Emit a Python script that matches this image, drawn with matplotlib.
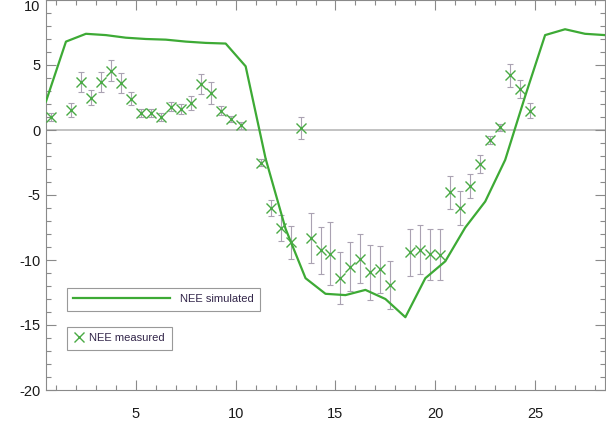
import matplotlib
matplotlib.use('Agg')
import matplotlib.pyplot as plt
from matplotlib.ticker import MultipleLocator

plt.rcParams['font.family'] = ['Liberation Sans', 'DejaVu Sans']
plt.rcParams['axes.unicode_minus'] = False

# simulated NEE, hourly
t_sim = [0.5, 1.5, 2.5, 3.5, 4.5, 5.5, 6.5, 7.5, 8.5, 9.5, 10.5, 11.5, 12.5, 13.5, 14.5,
         15.5, 16.5, 17.5, 18.5, 19.5, 20.5, 21.5, 22.5, 23.5, 24.5, 25.5, 26.5, 27.5, 28.5]
nee_sim = [2.2, 6.8, 7.4, 7.3, 7.1, 7.0, 6.95, 6.8, 6.7, 6.65, 4.9, -2.2, -7.6, -11.4, -12.6,
           -12.7, -12.3, -13.0, -14.4, -11.4, -10.1, -7.5, -5.5, -2.3, 2.6, 7.3, 7.75, 7.4, 7.3]

# measured NEE, half-hourly, with error
t_meas = [0.75, 1.75, 2.25, 2.75, 3.25, 3.75, 4.25, 4.75, 5.25, 5.75, 6.25, 6.75, 7.25, 7.75,
          8.25, 8.75, 9.25, 9.75, 10.25, 11.25, 11.75, 12.25, 12.75, 13.25, 13.75, 14.25, 14.75,
          15.25, 15.75, 16.25, 16.75, 17.25, 17.75, 18.75, 19.25, 19.75, 20.25, 20.75, 21.25,
          21.75, 22.25, 22.75, 23.25, 23.75, 24.25, 24.75]
nee_meas = [1.0, 1.55, 3.7, 2.5, 3.7, 4.55, 3.6, 2.4, 1.3, 1.3, 1.0, 1.8, 1.6, 2.1,
            3.55, 2.85, 1.5, 0.85, 0.35, -2.5, -6.0, -7.55, -8.65, 0.15, -8.3, -9.25, -9.5,
            -11.35, -10.5, -9.9, -10.95, -10.7, -11.9, -9.4, -9.2, -9.55, -9.6, -4.8, -6.0,
            -4.3, -2.6, -0.75, 0.2, 4.2, 3.15, 1.5]
nee_err = [0.3, 0.55, 0.75, 0.6, 0.75, 0.8, 0.75, 0.5, 0.3, 0.3, 0.3, 0.35, 0.4, 0.55,
           0.75, 0.85, 0.35, 0.25, 0.25, 0.25, 0.6, 1.0, 1.3, 0.85, 1.95, 1.8, 2.45,
           2.0, 1.9, 1.9, 2.1, 1.8, 1.85, 1.8, 1.9, 1.95, 1.95, 1.3, 1.3,
           0.95, 0.7, 0.3, 0.3, 0.9, 0.7, 0.55]

green = '#3daa35'
axis_gray = '#8a8a8a'
text_col = '#33264a'

fig = plt.figure(figsize=(6.06, 4.41), dpi=100)
ax = fig.add_axes([46/606, 51/441, 559/606, 390/441])

ax.axhline(0, color='#bdbdbd', lw=1.3, zorder=1)

sim_line, = ax.plot(t_sim, nee_sim, color=green, lw=1.6, zorder=3, label='NEE simulated')
ax.errorbar(t_meas, nee_meas, yerr=nee_err, fmt='none', ecolor='#aaa2b2', elinewidth=0.8,
            capsize=2.3, capthick=0.8, zorder=2)
meas_pts, = ax.plot(t_meas, nee_meas, 'x', color='#4aaa45', ms=7, mew=1.0, zorder=4,
                    label='NEE measured')

ax.set_xlim(0.5, 28.5)
ax.set_ylim(-20, 10)
ax.xaxis.set_major_locator(MultipleLocator(5))
ax.xaxis.set_minor_locator(MultipleLocator(1))
ax.yaxis.set_major_locator(MultipleLocator(5))
ax.yaxis.set_minor_locator(MultipleLocator(1))

ax.tick_params(which='both', direction='in', top=True, right=True, color=axis_gray, width=0.8)
ax.tick_params(which='major', length=7)
ax.tick_params(which='minor', length=3.5)
ax.tick_params(axis='x', which='major', pad=12, labelsize=10.5, labelcolor='#1a1a1a')
ax.tick_params(axis='y', which='major', pad=4, labelsize=10.5, labelcolor='#1a1a1a')
for s in ax.spines.values():
    s.set_color(axis_gray)
    s.set_linewidth(0.8)

# keep the top y label inside the figure
fig.canvas.draw()
for lab in ax.get_yticklabels():
    if lab.get_text() == '10':
        lab.set_verticalalignment('top')

leg1 = ax.legend(handles=[sim_line], loc='lower left', bbox_to_anchor=(0.037, 0.2026),
                 borderaxespad=0, fontsize=8, frameon=True, fancybox=False,
                 edgecolor='#999999', framealpha=1, borderpad=0.6,
                 handlelength=8.7, handletextpad=0.9, labelcolor=text_col)
leg1.get_frame().set_linewidth(0.8)
ax.add_artist(leg1)
leg2 = ax.legend(handles=[meas_pts], loc='lower left', bbox_to_anchor=(0.037, 0.1026),
                 borderaxespad=0, fontsize=8, frameon=True, fancybox=False,
                 edgecolor='#999999', framealpha=1, borderpad=0.6,
                 handlelength=1.0, handletextpad=0.45, labelcolor=text_col)
leg2.get_frame().set_linewidth(0.8)

fig.savefig('out.png', dpi=100)
